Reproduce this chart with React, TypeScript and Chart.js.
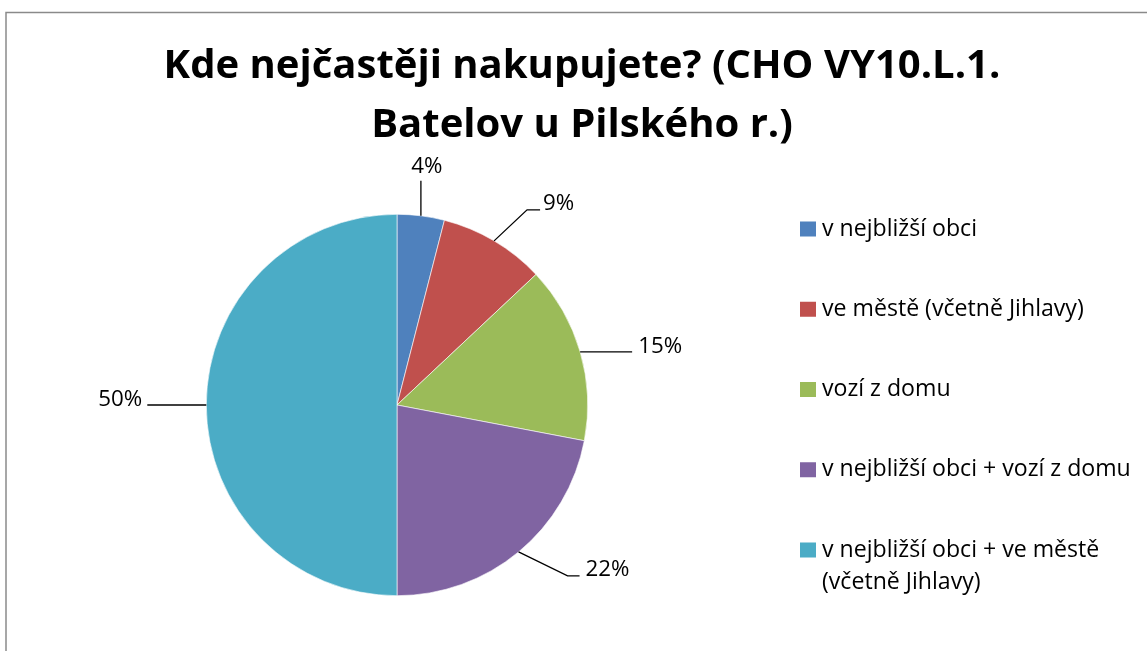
import React, { useEffect, useRef } from "react";
import { Chart, registerables } from "chart.js";

Chart.register(...registerables);

const titleLines = ["Kde nejčastěji nakupujete? (CHO VY10.L.1.", "Batelov u Pilského r.)"];
const categories = [
  "v nejbližší obci",
  "ve městě (včetně Jihlavy)",
  "vozí z domu",
  "v nejbližší obci + vozí z domu",
  "v nejbližší obci + ve městě (včetně Jihlavy)",
];
const percentages = [4, 9, 15, 22, 50];
const sliceColors = ["#4F81BD", "#C0504D", "#9BBB59", "#8064A2", "#4BACC6"];

const FONT = "'Open Sans', 'Noto Sans', sans-serif";

// size a font so that a sample string spans a target width (styling helper)
function fitSize(ctx: CanvasRenderingContext2D, weight: string, sample: string, target: number): number {
  ctx.save();
  ctx.font = `${weight} 100px ${FONT}`;
  const w = ctx.measureText(sample).width;
  ctx.restore();
  return (100 * target) / w;
}

// leader-line layout relative to the slice's outer edge point (styling only)
const leaderLayout = [
  { pts: [[0, -35]], text: [6, -43], align: "center" },
  { pts: [[33, -31], [46, -31]], text: [49, -31], align: "left" },
  { pts: [[52, 0]], text: [58, 1], align: "left" },
  { pts: [[49, 24], [61, 24]], text: [67, 24], align: "left" },
  { pts: [[-59, 0]], text: [-64, 1], align: "right" },
];

const framePlugin = {
  id: "frame",
  beforeDraw(chart: any) {
    const ctx = chart.ctx;
    ctx.save();
    ctx.fillStyle = "#ffffff";
    ctx.fillRect(0, 0, chart.width, chart.height);
    ctx.strokeStyle = "#8a8a8a";
    ctx.lineWidth = 1.5;
    ctx.strokeRect(6, 12.5, chart.width + 20, chart.height + 20);
    ctx.restore();
  },
};

const titlePlugin = {
  id: "customTitle",
  afterDraw(chart: any) {
    const ctx = chart.ctx;
    ctx.save();
    const size = fitSize(ctx, "bold", titleLines[0], 837);
    ctx.fillStyle = "#000000";
    ctx.font = `bold ${size}px ${FONT}`;
    ctx.textAlign = "center";
    ctx.textBaseline = "alphabetic";
    const cx = 582;
    const baselines = [78, 137];
    titleLines.forEach((line, i) => ctx.fillText(line, cx, baselines[i]));
    ctx.restore();
  },
};

const labelPlugin = {
  id: "leaderLabels",
  afterDatasetsDraw(chart: any) {
    const ctx = chart.ctx;
    const meta = chart.getDatasetMeta(0);
    const values = chart.data.datasets[0].data as number[];
    ctx.save();
    const size = fitSize(ctx, "normal", "15%", 44);
    ctx.strokeStyle = "#000000";
    ctx.lineWidth = 1.3;
    ctx.fillStyle = "#000000";
    ctx.font = `${size}px ${FONT}`;
    ctx.textBaseline = "alphabetic";
    meta.data.forEach((arc: any, i: number) => {
      const p = arc.getProps(["x", "y", "startAngle", "endAngle", "outerRadius"], true);
      const mid = (p.startAngle + p.endAngle) / 2;
      const sx = p.x + Math.cos(mid) * p.outerRadius;
      const sy = p.y + Math.sin(mid) * p.outerRadius;
      const lay = leaderLayout[i];
      ctx.beginPath();
      ctx.moveTo(sx, sy);
      lay.pts.forEach((q) => ctx.lineTo(sx + q[0], sy + q[1]));
      ctx.stroke();
      ctx.textAlign = lay.align as CanvasTextAlign;
      ctx.fillText(`${values[i]}%`, sx + lay.text[0], sy + lay.text[1]);
    });
    ctx.restore();
  },
};

function wrap(ctx: CanvasRenderingContext2D, text: string, maxW: number): string[] {
  const words = text.split(" ");
  const lines: string[] = [];
  let cur = "";
  words.forEach((w) => {
    const t = cur ? cur + " " + w : w;
    if (ctx.measureText(t).width > maxW && cur) {
      lines.push(cur);
      cur = w;
    } else cur = t;
  });
  if (cur) lines.push(cur);
  return lines;
}

const legendPlugin = {
  id: "customLegend",
  afterDraw(chart: any) {
    const ctx = chart.ctx;
    const labels = chart.data.labels as string[];
    const bg = chart.data.datasets[0].backgroundColor as string[];
    ctx.save();
    const size = fitSize(ctx, "normal", labels[3], 309);
    ctx.font = `${size}px ${FONT}`;
    ctx.textBaseline = "alphabetic";
    ctx.textAlign = "left";
    const boxX = 800;
    const firstTop = 221.5;
    const step = 80.25;
    const lineH = 32;
    labels.forEach((lab, i) => {
      const top = firstTop + i * step;
      ctx.fillStyle = bg[i];
      ctx.fillRect(boxX, top, 16, 15);
      ctx.fillStyle = "#000000";
      const lines = wrap(ctx, lab, 320);
      lines.forEach((ln, j) => ctx.fillText(ln, 822, top + 14 + j * lineH));
    });
    ctx.restore();
  },
};

export default function App() {
  const ref = useRef<HTMLCanvasElement | null>(null);
  useEffect(() => {
    if (!ref.current) return;
    const chart = new Chart(ref.current, {
      type: "pie",
      data: {
        labels: categories,
        datasets: [
          {
            data: percentages,
            backgroundColor: sliceColors,
            borderColor: "#ffffff",
            borderWidth: 0.6,
          },
        ],
      },
      options: {
        responsive: false,
        animation: false,
        devicePixelRatio: 1,
        layout: { padding: { left: 206, right: 559, top: 214, bottom: 55 } },
        plugins: {
          legend: { display: false },
          title: { display: false },
          tooltip: { enabled: false },
        },
      },
      plugins: [framePlugin, titlePlugin, labelPlugin, legendPlugin],
    });
    return () => chart.destroy();
  }, []);
  return (
    <div style={{ position: "absolute", left: 0, top: 0, width: 1147, height: 651 }}>
      <canvas ref={ref} width={1147} height={651} style={{ display: "block" }} />
    </div>
  );
}
